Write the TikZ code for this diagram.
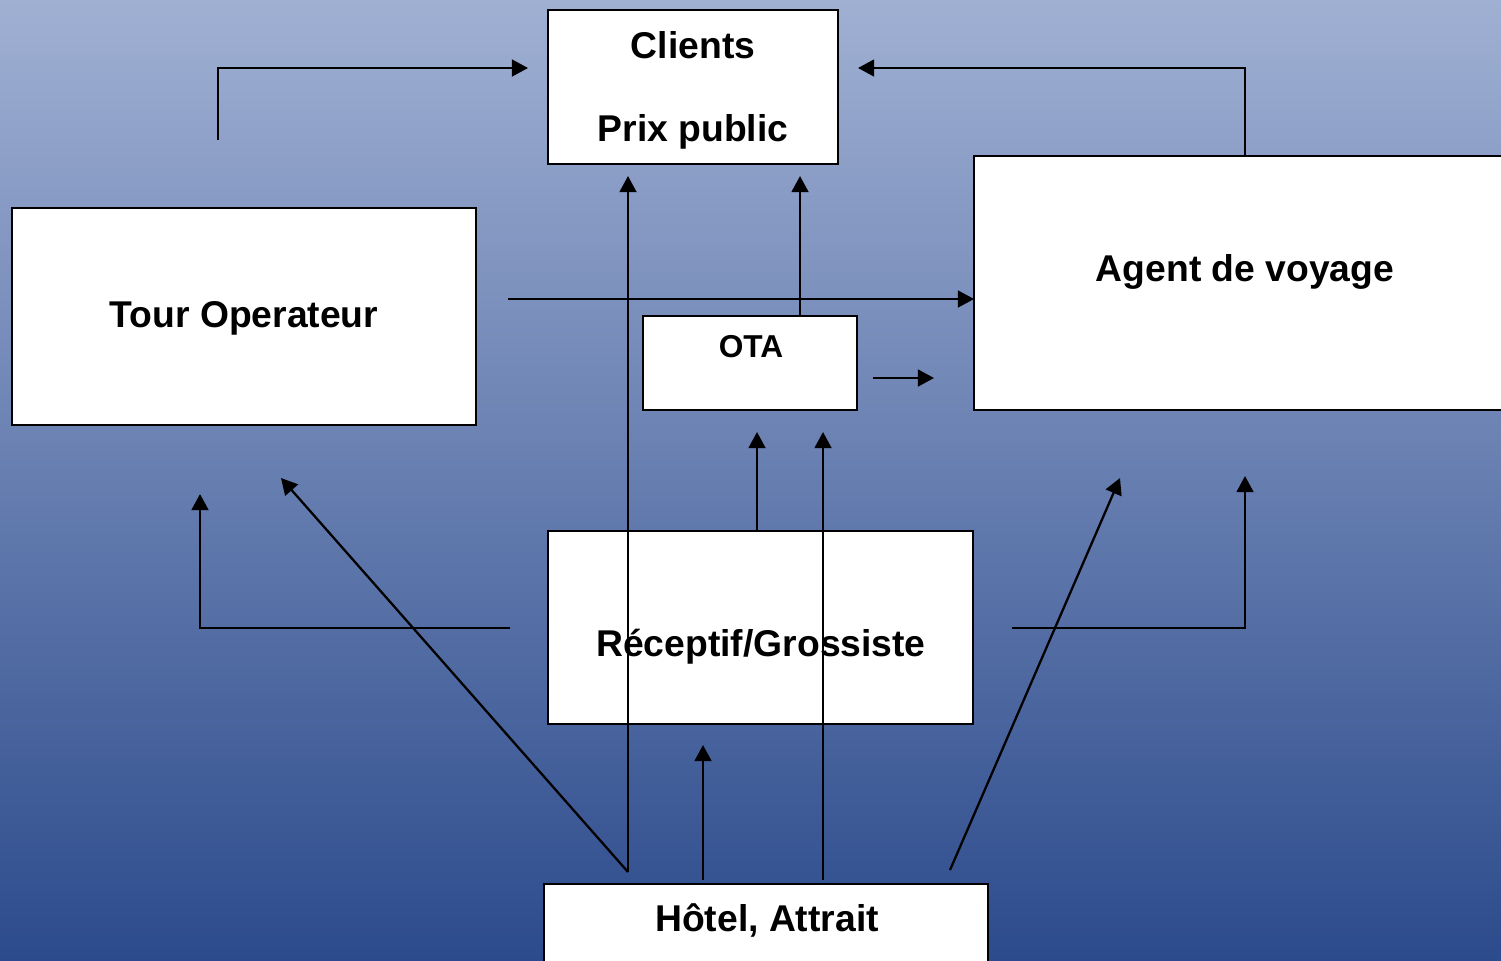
\documentclass[tikz,border=0pt]{standalone}
\usepackage{fontspec}
\setmainfont{Liberation Sans}
\usetikzlibrary{arrows.meta}
\definecolor{bgtop}{RGB}{160,176,211}
\definecolor{bgbottom}{RGB}{44,75,140}

\begin{document}
\begin{tikzpicture}[
            x=0.01cm, y=-0.01cm, line width=0.65pt,
        box/.style={rectangle,draw,fill=white,inner sep=0pt},
        lbl/.style={font=\bfseries\fontsize{10.6}{12}\selectfont,inner sep=0pt},
        small lbl/.style={font=\bfseries\fontsize{9}{11}\selectfont,inner sep=0pt},
        arr/.style={-{Triangle[length=4.6pt,width=4.8pt]}}
                                ]
          \shade[top color=bgtop,bottom color=bgbottom] (0,0) rectangle (1501,960);
          \useasboundingbox (0,0) rectangle (1501,960);

          % boxes
          \node[box,minimum width=2.90cm,minimum height=1.54cm] (clients) at (693,87) {};
          \node[box,minimum width=4.64cm,minimum height=2.17cm] (tour) at (244,316.5) {};
          \node[box,minimum width=5.40cm,minimum height=2.54cm] (agent) at (1244,283) {};
          \node[box,minimum width=2.14cm,minimum height=0.94cm] (ota) at (750,363) {};
          \node[box,minimum width=4.25cm,minimum height=1.93cm] (recep) at (760.5,627.5) {};
          \node[box,minimum width=4.44cm,minimum height=1.00cm] (hotel) at (766,934) {};

          % texts
          \node[lbl] (clientsA) at (693,45) {Clients};
          \node[lbl] (clientsB) at (693,132) {Prix public};
          \node[lbl] (tourT) at (244,318) {Tour Operateur};
          \node[lbl] (agentT) at (1245,272) {Agent de voyage};
          \node[small lbl] (otaT) at (751,347) {OTA};
          \node[lbl] (recepT) at (761,647) {Réceptif/Grossiste};
          \node[lbl] (hotelT) at (767,920) {Hôtel, Attrait};

          % free ends
          \coordinate (tourUp) at (218,140);
          \coordinate (clientsL) at (528,68);
          \coordinate (clientsR) at (858,68);
          \coordinate (agentTop) at (1245,156);
          \coordinate (tourR) at (508,299);
          \coordinate (agentL) at (974,299);
          \coordinate (otaTop) at (800,316);
          \coordinate (clientsB1) at (628,176);
          \coordinate (clientsB2) at (800,176);
          \coordinate (otaOut) at (873,378);
          \coordinate (otaArr) at (934,378);
          \coordinate (hotelA) at (628,872);
          \coordinate (tourB1) at (281,478);
          \coordinate (recepTop) at (757,531);
          \coordinate (otaB1) at (757,432);
          \coordinate (otaB2) at (823,432);
          \coordinate (hotelB) at (823,880);
          \coordinate (recepL) at (510,628);
          \coordinate (tourB2) at (200,494);
          \coordinate (recepR) at (1012,628);
          \coordinate (agentB2) at (1245,476);
          \coordinate (hotelC) at (703,880);
          \coordinate (recepB) at (703,745);
          \coordinate (hotelD) at (950,870);
          \coordinate (agentB1) at (1120,478);

          % connectors
          \draw[arr] (tourUp) |- (clientsL);
          \draw[arr] (agentTop) |- (clientsR);
          \draw[arr] (tourR) -- (agentL);
          \draw[arr] (otaTop) -- (clientsB2);
          \draw[arr] (otaOut) -- (otaArr);
          \draw[arr] (hotelA) -- (clientsB1);
          \draw[arr] (hotelA) -- (tourB1);
          \draw[arr] (recepTop) -- (otaB1);
          \draw[arr] (hotelB) -- (otaB2);
          \draw[arr] (recepL) -| (tourB2);
          \draw[arr] (recepR) -| (agentB2);
          \draw[arr] (hotelC) -- (recepB);
          \draw[arr] (hotelD) -- (agentB1);
    \end{tikzpicture}
\end{document}
